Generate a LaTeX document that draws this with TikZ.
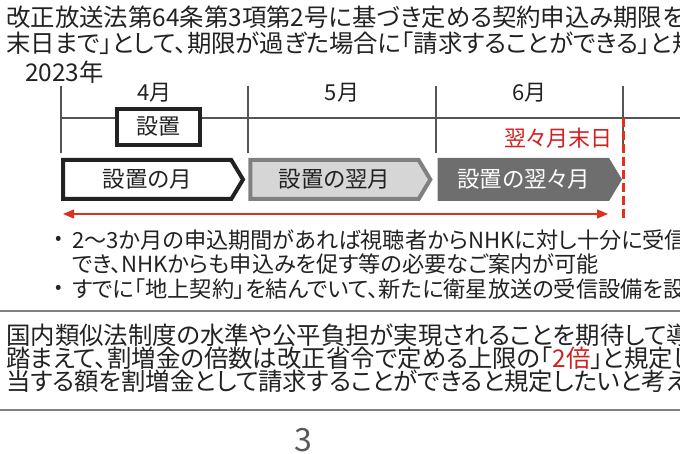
\documentclass[tikz,border=0pt]{standalone}
\usepackage{fontspec}
\setmainfont{Noto Sans CJK JP}[RawFeature=+palt]
\usetikzlibrary{calc,positioning,shapes.symbols,arrows.meta}
\definecolor{ink}{HTML}{222222}
\definecolor{rule}{HTML}{555555}
\definecolor{hiRed}{HTML}{E0301E}
\definecolor{txRed}{HTML}{D02020}
\definecolor{lgray}{HTML}{D6D6D6}
\definecolor{mgray}{HTML}{808080}
\definecolor{dgray}{HTML}{6E6E6E}
\definecolor{pgray}{HTML}{595959}
\newcommand{\fs}[1]{\fontsize{#1}{#1}\selectfont}

\begin{document}
\begin{tikzpicture}[x=1pt,y=-1pt,
    txt/.style = {inner sep=0, text=ink, anchor=west, font=\fs{24.4}},
    bul/.style = {inner sep=0, text=ink, anchor=west, font=\fs{22.2}},
    dot/.style = {inner sep=0, text=ink, font=\fs{19}},
    mon/.style = {inner sep=0, text=ink, font=\fs{22}},
    chev/.style = {signal, signal to=east, signal pointer angle=118, line width=4pt,
        minimum width=180pt, minimum height=39pt, inner sep=0, font=\fs{22.5}},
    tick/.style = {draw=rule, line width=1.6pt},
    sep/.style = {draw=mgray, line width=2.5pt}]
    \useasboundingbox (0,0) rectangle (680,454);
    \clip (0,0) rectangle (680,454);
    \node[txt] (h1) at (6,17) {改正放送法第64条第3項第2号に基づき定める契約申込み期限を};
    \node[txt] (h2) at (6,43) {末日まで」として、期限が過ぎた場合に「請求することができる」と規};
    \node[txt] (yr) at (25,72) {2023年};
    \foreach \i/\x in {1/61,2/248,3/436,4/623} {
        \coordinate (t\i) at (\x,86);
        \coordinate (b\i) at (\x,153);
        \draw[tick] (t\i) -- (b\i);
    }
    \coordinate (h0) at (61,118);
    \coordinate (hx) at (682,118);
    \draw[tick] (h0) -- (hx);
    \node[mon] (m4) at ($(t1)!.5!(t2)+(0,7)$) {4月};
    \node[mon] (m5) at ($(t2)!.5!(t3)+(0,7)$) {5月};
    \node[mon] (m6) at ($(t3)!.5!(t4)+(0,7)$) {6月};
    \node[draw=ink, line width=4pt, fill=white, minimum width=83pt, minimum height=36pt,
        inner sep=0, font=\fs{22}, text=ink] (setti) at (158.5,127) {設置};
    \coordinate (r0) at (623,118);
    \coordinate (r1) at (623,221);
    \draw[hiRed, line width=3pt, dash pattern=on 9pt off 4pt] (r0) -- (r1);
    \node[inner sep=0, anchor=east, text=txRed, font=\fs{22}] (lim) at (613,138) {翌々月末日};
    \node[chev, draw=ink, fill=white, text=ink, anchor=west] (c1) at (61,179.5) {設置の月};
    \node[chev, draw=mgray, fill=lgray, text=ink] (c2) [right=3pt of c1] {設置の翌月};
    \node[chev, draw=dgray, fill=dgray, text=white] (c3) [right=5pt of c2] {設置の翌々月};
    \coordinate (aL) at (63,214);
    \coordinate (aR) at (608,214);
    \draw[hiRed, line width=1.5pt, {Triangle[length=11pt,width=9pt]}-{Triangle[length=11pt,width=9pt]}] (aL) -- (aR);
    \node[dot] (d1) at (59,240) {•};
    \node[bul] (l1) at (72,240) {2〜3か月の申込期間があれば視聴者からNHKに対し十分に受信};
    \node[bul] (l2) at (72,264) {でき、NHKからも申込みを促す等の必要なご案内が可能};
    \node[dot] (d3) at (59,289) {•};
    \node[bul] (l3) at (72,289) {すでに「地上契約」を結んでいて、新たに衛星放送の受信設備を設};
    \coordinate (s0) at (-2,311);
    \coordinate (s1) at (682,311);
    \draw[sep] (s0) -- (s1);
    \node[txt] (k1) at (6,335) {国内類似法制度の水準や公平負担が実現されることを期待して導};
    \node[txt] (k2) at (6,358) {踏まえて、割増金の倍数は改正省令で定める上限の「{\color{txRed}2倍}」と規定し};
    \node[txt] (k3) at (6,381) {当する額を割増金として請求することができると規定したいと考え};
    \coordinate (e0) at (-2,410);
    \coordinate (e1) at (682,410);
    \draw[sep] (e0) -- (e1);
    \node[inner sep=0, text=pgray, font=\fs{32}] (pg) at (303,440) {3};
\end{tikzpicture}
\end{document}
